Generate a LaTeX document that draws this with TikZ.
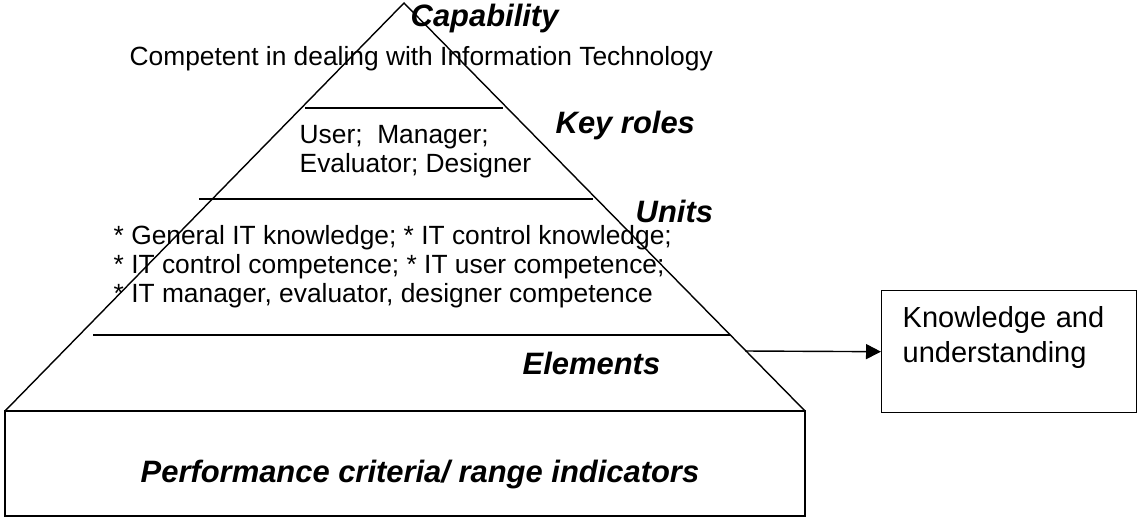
\documentclass[tikz,border=0pt]{standalone}
\usepackage{fontspec}
\setmainfont{Liberation Sans}
\usetikzlibrary{arrows.meta}
\usetikzlibrary{positioning}

\begin{document}
\begin{tikzpicture}[x=0.02cm,y=-0.02cm,>={Triangle[length=0.3cm,width=0.3cm]},
		line width=0.8pt,
		level/.style={font=\fontsize{17.6}{20}\selectfont\bfseries\itshape, anchor=base west, inner sep=0},
		plain/.style={font=\fontsize{15}{16.3}\selectfont, anchor=base west, inner sep=0, align=left},
		kbox/.style={draw, anchor=north west, font=\fontsize{16.5}{19.8}\selectfont, align=left,
			text width=4.26cm, inner xsep=0.42cm, inner ysep=0pt, text height=0.74cm, text depth=1.7cm}]
	\useasboundingbox (0,0) rectangle (1138,517);
	
	% draw pyramid
	\coordinate (top) at (404,3);
	\coordinate (bl) at (5,411);
	\coordinate (br) at (805,411);
	\draw (bl) -- (top) -- (br);
	
	% draw base block
	\draw (bl) rectangle (805,516);
	
	% draw layer lines
	\draw (305,108) -- (503,108);
	\draw (199,199) -- (593,199);
	\draw (93,335) -- (730,335);
	
	% level names
	\node[level] (cap) at (410,27) {Capability};
	\node[level] (roles) at (555,133) {Key roles};
	\node[level] (units) at (635,222) {Units};
	\node[level] (elem) at (522,374) {Elements};
	\node[level] (perf) at (140,482) {Performance criteria/ range indicators};
	
	% level contents (anchored on the last line)
	\node[plain] (comp) at (129,66) {Competent in dealing with Information Technology};
	\node[plain] (who) at (299,172) {User;~ Manager;\\Evaluator; Designer};
	\node[plain] (list) at (113,302) {* General IT knowledge; * IT control knowledge;\\* IT control competence; * IT user competence;\\* IT manager, evaluator, designer competence};
	
	% knowledge box and arrow
	\node[kbox] (know) at (881,290) {Knowledge and\\understanding};
	\coordinate (out) at (745,351);
	\draw[->] (out) -- (know.west);
\end{tikzpicture}
\end{document}
